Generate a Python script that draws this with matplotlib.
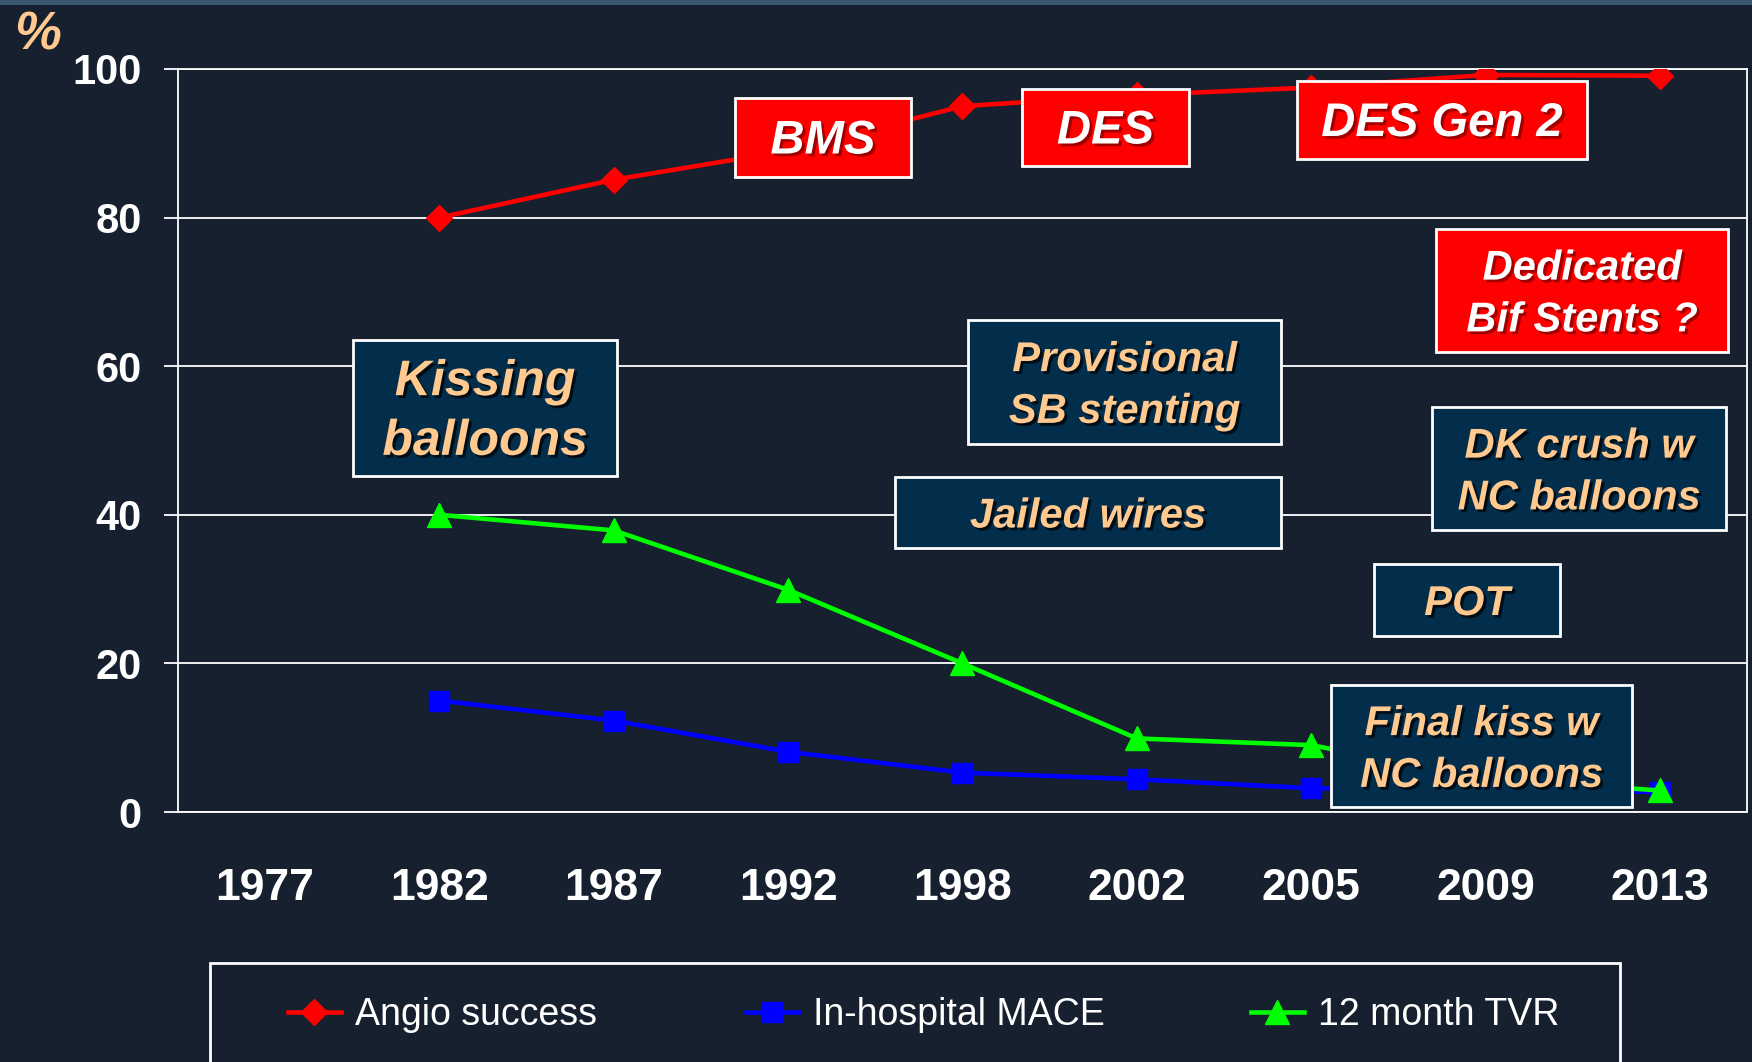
import numpy as np
import matplotlib

matplotlib.use("Agg")
import matplotlib.pyplot as plt
import matplotlib.patheffects as pe
from matplotlib.lines import Line2D
from matplotlib.patches import Rectangle

# ---- data ----
years = ["1977", "1982", "1987", "1992", "1998", "2002", "2005", "2009", "2013"]
angio_success = [np.nan, 80.0, 85.1, 89.0, 95.0, 96.5, 97.5, 99.2, 99.1]
inhospital_mace = [np.nan, 15.0, 12.3, 8.1, 5.3, 4.4, 3.2, 3.0, 2.7]
tvr_12m = [np.nan, 40.0, 37.9, 29.9, 20.0, 9.9, 9.0, 4.5, 2.9]
y_ticks = [0, 20, 40, 60, 80, 100]

series_labels = ["Angio success", "In-hospital MACE", "12 month TVR"]

# ---- style ----
BG = "#16202e"
BOX_BLUE = "#022d4b"
PEACH = "#ffc98f"
RED = "#ff0000"
W, H = 1752, 1062
FONT = ["Liberation Sans", "DejaVu Sans"]

plt.rcParams["font.family"] = FONT

fig = plt.figure(figsize=(W / 100, H / 100), dpi=100, facecolor=BG)
ax = fig.add_axes([178 / W, 1 - 812 / H, (1747 - 178) / W, (812 - 69) / H])
ax.set_facecolor(BG)

styles = [
    dict(color=RED, lw=3.3, marker="D", ms=13),
    dict(color="#0000ff", lw=3.3, marker="s", ms=15),
    dict(color="#00ff00", lw=3.3, marker="^", ms=17),
]

x = np.arange(len(years))
ax.plot(x, angio_success, zorder=3, **styles[0])
ax.plot(x, inhospital_mace, zorder=3, **styles[1])
ax.plot(x, tvr_12m, zorder=4, **styles[2])

ax.set_xlim(-0.5, len(years) - 0.5)
ax.set_ylim(0, 100)
ax.set_yticks(y_ticks)
ax.set_xticks(x)
ax.set_xticklabels(years)
ax.grid(axis="y", color="white", lw=1.3)
ax.set_axisbelow(True)
for s in ax.spines.values():
    s.set_color("white")
    s.set_linewidth(1.3)
ax.tick_params(axis="y", colors="white", length=10, width=1.3, pad=16,
               labelsize=30)
ax.tick_params(axis="x", colors="white", length=0, pad=40, labelsize=32)
for lab in ax.get_xticklabels() + ax.get_yticklabels():
    lab.set_fontweight("bold")


def fx(px):
    return px / W


def fy(py):
    return 1 - py / H


def box(x0, y0, x1, y1, lines, face, color, size, shadow):
    fig.patches.append(Rectangle((fx(x0), fy(y1)), fx(x1) - fx(x0), fy(y0) - fy(y1),
                                 transform=fig.transFigure, facecolor=face,
                                 edgecolor="white", lw=2, zorder=5))
    effects = [pe.withSimplePatchShadow(offset=(2, -2), shadow_rgbFace=shadow, alpha=0.7)]
    # text sits a touch below the box centre in the reference
    fig.text(fx((x0 + x1) / 2), fy((y0 + y1) / 2 + 4), "\n".join(lines), color=color,
             fontsize=size, fontweight="bold", fontstyle="italic", ha="center",
             va="center", linespacing=1.38, zorder=6, path_effects=effects)


# red stent boxes
box(735, 98, 911, 177, ["BMS"], RED, "white", 34, "#7a0000")
box(1022, 89, 1189, 166, ["DES"], RED, "white", 34, "#7a0000")
box(1297, 81, 1587, 159, ["DES Gen 2"], RED, "white", 34, "#7a0000")
box(1436, 229, 1728, 352, ["Dedicated", "Bif Stents ?"], RED, "white", 30, "#7a0000")

# technique boxes
box(353, 340, 617, 476, ["Kissing", "balloons"], BOX_BLUE, PEACH, 36, "#000000")
box(968, 320, 1281, 444, ["Provisional", "SB stenting"], BOX_BLUE, PEACH, 30, "#000000")
box(895, 477, 1281, 548, ["Jailed wires"], BOX_BLUE, PEACH, 30, "#000000")
box(1432, 407, 1726, 530, ["DK crush w", "NC balloons"], BOX_BLUE, PEACH, 30, "#000000")
box(1374, 564, 1560, 636, ["POT"], BOX_BLUE, PEACH, 30, "#000000")
box(1331, 685, 1632, 807, ["Final kiss w", "NC balloons"], BOX_BLUE, PEACH, 30, "#000000")

# "%" unit label
fig.text(fx(38), fy(35), "%", color=PEACH, fontsize=38, fontweight="bold",
         fontstyle="italic", ha="center", va="center")

# top border strip
fig.patches.append(Rectangle((0, fy(5)), 1, fy(0) - fy(5), transform=fig.transFigure,
                             facecolor="#3b5770", edgecolor="none", zorder=5))

# legend frame (runs off the bottom like the reference)
fig.patches.append(Rectangle((fx(210), fy(1070)), fx(1620) - fx(210), fy(963) - fy(1070),
                             transform=fig.transFigure, facecolor="none",
                             edgecolor="white", lw=2, zorder=5))

# one legend per entry so each sits where the reference puts it
legend_left = [288, 746, 1251]
for st, label, lx in zip(styles, series_labels, legend_left):
    leg = fig.legend([Line2D([], [], **st)], [label], loc="center left",
                     bbox_to_anchor=(fx(lx), fy(1015)), frameon=False,
                     borderpad=0, borderaxespad=0, handlelength=1.4,
                     handletextpad=0.39, prop={"size": 27})
    leg.get_texts()[0].set_color("white")

fig.savefig("out.png", dpi=100, facecolor=BG)
